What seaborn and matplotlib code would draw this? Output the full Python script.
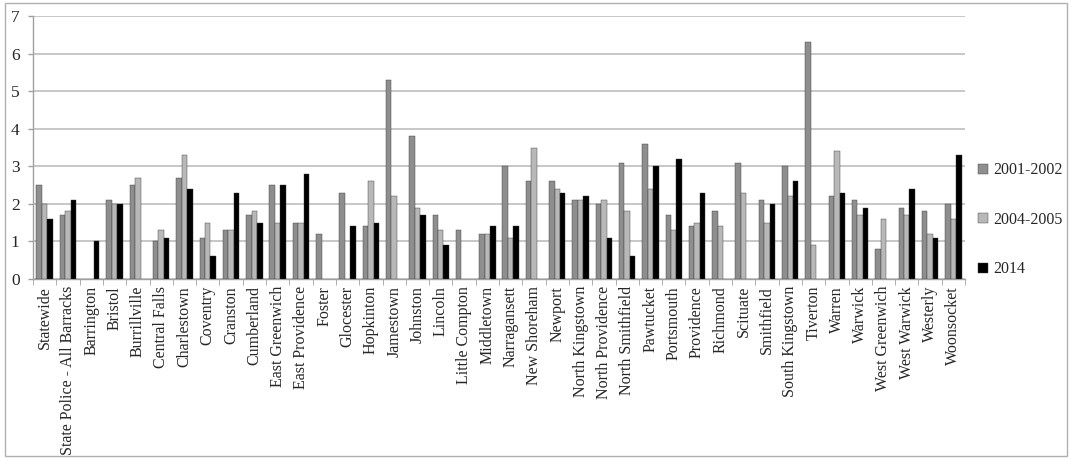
import numpy as np
import pandas as pd
import seaborn as sns
import matplotlib
matplotlib.use("Agg")
from matplotlib import pyplot as plt
from matplotlib.patches import Rectangle

nan = np.nan

towns = [
    "Statewide", "State Police - All Barracks", "Barrington", "Bristol", "Burrillville",
    "Central Falls", "Charlestown", "Coventry", "Cranston", "Cumberland",
    "East Greenwich", "East Providence", "Foster", "Glocester", "Hopkinton",
    "Jamestown", "Johnston", "Lincoln", "Little Compton", "Middletown",
    "Narragansett", "New Shoreham", "Newport", "North Kingstown", "North Providence",
    "North Smithfield", "Pawtucket", "Portsmouth", "Providence", "Richmond",
    "Scituate", "Smithfield", "South Kingstown", "Tiverton", "Warren",
    "Warwick", "West Greenwich", "West Warwick", "Westerly", "Woonsocket",
]

y2001_2002 = [
    2.5, 1.7, nan, 2.1, 2.5, 1.0, 2.7, 1.1, 1.3, 1.7,
    2.5, 1.5, 1.2, 2.3, 1.4, 5.3, 3.8, 1.7, 1.3, 1.2,
    3.0, 2.6, 2.6, 2.1, 2.0, 3.1, 3.6, 1.7, 1.4, 1.8,
    3.1, 2.1, 3.0, 6.3, 2.2, 2.1, 0.8, 1.9, 1.8, 2.0,
]
y2004_2005 = [
    2.0, 1.8, nan, 2.0, 2.7, 1.3, 3.3, 1.5, 1.3, 1.8,
    1.5, 1.5, nan, nan, 2.6, 2.2, 1.9, 1.3, nan, 1.2,
    1.1, 3.5, 2.4, 2.1, 2.1, 1.8, 2.4, 1.3, 1.5, 1.4,
    2.3, 1.5, 2.2, 0.9, 3.4, 1.7, 1.6, 1.7, 1.2, 1.6,
]
y2014 = [
    1.6, 2.1, 1.0, 2.0, nan, 1.1, 2.4, 0.6, 2.3, 1.5,
    2.5, 2.8, nan, 1.4, 1.5, nan, 1.7, 0.9, nan, 1.4,
    1.4, nan, 2.3, 2.2, 1.1, 0.6, 3.0, 3.2, 2.3, nan,
    nan, 2.0, 2.6, nan, 2.3, 1.9, nan, 2.4, 1.1, 3.3,
]

series = ["2001-2002", "2004-2005", "2014"]
palette = ["#8e8e8e", "#b8b8b8", "#000000"]

df = pd.DataFrame({"town": towns, "2001-2002": y2001_2002,
                   "2004-2005": y2004_2005, "2014": y2014})
long_df = df.melt(id_vars="town", var_name="period", value_name="value")

sns.set_style("white")
plt.rcParams["font.family"] = ["Liberation Serif", "DejaVu Serif"]

fig = plt.figure(figsize=(10.7, 4.59), dpi=100)
ax = fig.add_axes([33 / 1070, 1 - 279 / 459, 932 / 1070, 263 / 459])

sns.barplot(data=long_df, x="town", y="value", hue="period", hue_order=series,
            palette=palette, width=0.7, errorbar=None, ax=ax, zorder=3,
            edgecolor="#3a3a3a", linewidth=0.3)

ax.set_ylim(0, 7)
ax.set_xlim(-0.5, len(towns) - 0.5)
ax.set_yticks(range(8))
ax.yaxis.grid(True, color="#bdbdbd", linewidth=1.2, zorder=0)
ax.set_xlabel("")
ax.set_ylabel("")
ax.tick_params(axis="y", labelsize=12.5, length=3.6, width=1.0, color="#a0a0a0",
               pad=6, left=True)
ax.tick_params(axis="x", which="major", labelsize=11.5, length=0, rotation=90, pad=5)
ax.set_xticks(np.arange(-0.5, len(towns), 1), minor=True)
ax.tick_params(axis="x", which="minor", length=4, color="#a0a0a0", bottom=True)

for side in ["top", "right"]:
    ax.spines[side].set_visible(False)
for side in ["left", "bottom"]:
    ax.spines[side].set_color("#a0a0a0")
    ax.spines[side].set_linewidth(1.0)

handles, labels = ax.get_legend_handles_labels()
ax.legend_.remove()
fig.legend(handles, labels, loc="upper left", bbox_to_anchor=(972 / 1070, 1 - 156 / 459),
           frameon=False, fontsize=11.5, handlelength=0.6, handleheight=0.6,
           handletextpad=0.3, labelspacing=2.1, borderaxespad=0)

fig.patches.append(Rectangle((5 / 1070, 3 / 459), 1062 / 1070, 453 / 459,
                             transform=fig.transFigure, fill=False,
                             edgecolor="#b0b0b0", linewidth=1.0))

fig.savefig("out.png", dpi=100)
